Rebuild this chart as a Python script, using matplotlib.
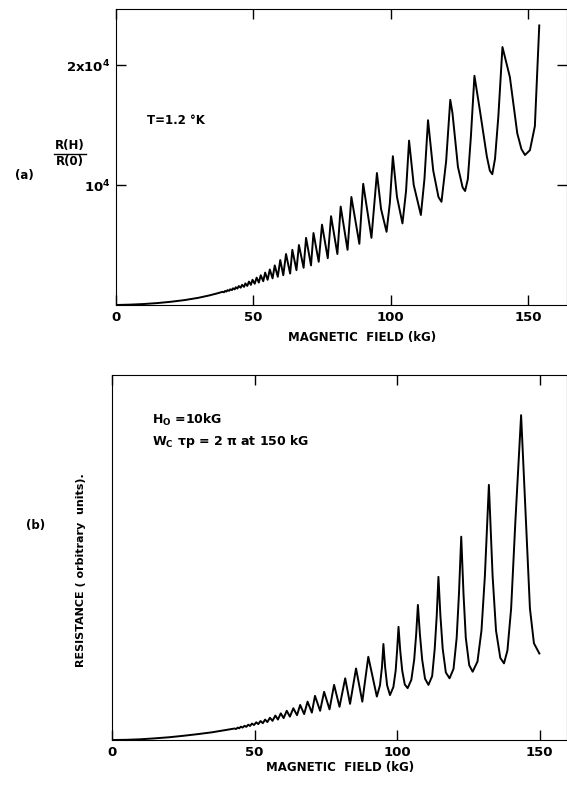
import matplotlib
matplotlib.use("Agg")
import matplotlib.pyplot as plt
from matplotlib.lines import Line2D

# ---- data ----
# (a) measured R(H)/R(0), field in kG, ratio in units of 10^4
field_a = [0.0, 5.0, 10.0, 15.0, 20.0, 25.0, 30.0, 34.0, 37.0,
           38.8, 39.3, 39.7, 40.2, 40.6, 41.2, 41.6, 42.2, 42.6, 43.2,
           43.6, 44.2, 44.7, 45.4, 45.9, 46.6, 47.1, 47.8, 48.4, 49.1,
           49.7, 50.5, 51.2, 52.0, 52.7, 53.6, 54.3, 55.2, 56.0, 57.0,
           57.8, 58.9, 59.8, 60.9, 61.9, 63.4, 64.2, 65.7, 66.6, 68.3,
           69.2, 71.0, 71.9, 73.8, 75.0, 77.1, 78.3, 80.6, 81.8, 84.3,
           85.7, 88.6, 90.0, 93.0, 95.0, 96.5, 98.5, 99.7, 100.8, 102.3,
           104.3, 105.6, 106.7, 108.4, 111.0, 112.3, 113.6, 115.5, 117.4, 118.5,
           120.2, 121.7, 122.5, 124.5, 126.2, 127.1, 128.1, 129.2, 130.5, 132.5,
           135.0, 136.1, 137.0, 138.0, 139.2, 140.7, 143.4, 146.1, 147.6, 148.9,
           150.7, 152.5, 154.1]
ratio_a = [0.000, 0.003, 0.008, 0.016, 0.027, 0.041, 0.060, 0.080, 0.098,
           0.110, 0.106, 0.117, 0.112, 0.124, 0.118, 0.131, 0.124, 0.139, 0.130,
           0.148, 0.137, 0.158, 0.144, 0.168, 0.151, 0.180, 0.159, 0.195, 0.168,
           0.210, 0.177, 0.228, 0.187, 0.248, 0.198, 0.270, 0.210, 0.296, 0.222,
           0.330, 0.235, 0.375, 0.248, 0.425, 0.262, 0.46, 0.29, 0.50, 0.31,
           0.56, 0.33, 0.60, 0.36, 0.67, 0.39, 0.74, 0.425, 0.82, 0.46,
           0.90, 0.51, 1.01, 0.56, 1.10, 0.80, 0.61, 0.85, 1.24, 0.90,
           0.68, 0.95, 1.37, 1.00, 0.75, 1.05, 1.54, 1.12, 0.90, 0.86,
           1.20, 1.71, 1.60, 1.15, 0.98, 0.95, 1.05, 1.40, 1.91, 1.62,
           1.24, 1.12, 1.09, 1.22, 1.57, 2.15, 1.90, 1.43, 1.30, 1.25,
           1.29, 1.49, 2.33]

# (b) calculated resistance, arbitrary units
field_b = [0.0, 5.0, 10.0, 15.0, 20.0, 25.0, 30.0, 35.0, 40.0,
           43.0, 43.5, 44.1, 44.6, 45.2, 45.8, 46.5, 47.1, 47.8, 48.4,
           49.1, 49.8, 50.6, 51.3, 52.1, 52.9, 53.7, 54.5, 55.4, 56.3,
           57.3, 58.2, 59.2, 60.2, 61.3, 62.4, 63.6, 64.9, 66.0, 67.4,
           68.6, 70.1, 71.2, 73.0, 74.4, 76.3, 77.9, 79.8, 81.8, 83.5,
           85.6, 87.8, 89.9, 92.9, 94.0, 94.7, 95.2, 95.8, 96.5, 97.5,
           98.7, 99.5, 100.0, 100.5, 101.1, 101.8, 102.7, 103.7,
           105.0, 106.0, 106.7, 107.3, 108.0, 108.8, 109.8, 111.0,
           112.3, 113.2, 113.9, 114.5, 115.2, 116.0, 117.1, 118.4,
           119.8, 120.9, 121.7, 122.5, 123.3, 124.1, 125.3, 126.5,
           128.2, 129.6, 130.8, 132.2, 133.5, 134.7, 136.2, 137.5,
           138.7, 140.0, 141.5, 143.5, 145.2, 146.6, 148.0, 149.9]
resist_b = [0.0, 0.05, 0.2, 0.45, 0.75, 1.15, 1.6, 2.1, 2.75,
            3.15, 3.0, 3.4, 3.2, 3.65, 3.4, 3.9, 3.6, 4.2, 3.85,
            4.5, 4.1, 4.85, 4.35, 5.2, 4.6, 5.6, 4.9, 6.1, 5.25,
            6.7, 5.6, 7.3, 6.0, 8.0, 6.4, 8.7, 6.8, 9.6, 7.1,
            10.5, 7.5, 12.1, 8.0, 13.2, 8.4, 15.1, 9.1, 16.9, 9.9,
            19.6, 10.5, 22.8, 11.9, 15.0, 20.0, 26.3, 20.0, 15.0, 12.3,
            14.5, 19.0, 24.5, 31.0, 24.5, 19.0, 15.2, 14.2,
            16.5, 22.0, 29.0, 37.0, 29.0, 22.0, 16.8, 15.1,
            17.5, 25.0, 34.0, 44.7, 34.0, 25.0, 18.5, 16.9,
            19.5, 28.0, 40.0, 55.7, 40.0, 28.0, 20.5, 18.7,
            21.5, 30.0, 45.0, 69.9, 45.0, 30.0, 22.5, 21.0,
            24.5, 36.0, 60.0, 89.0, 60.0, 36.0, 26.5, 23.7]

field_ticks = [0, 50, 100, 150]
field_labels = ["0", "50", "100", "150"]
ratio_ticks = [1, 2]
ratio_labels = ["10$^4$", "2x10$^4$"]

plt.rcParams["font.family"] = "DejaVu Sans"
plt.rcParams["font.weight"] = "bold"
plt.rcParams["mathtext.default"] = "regular"

W, H = 567, 788
fig = plt.figure(figsize=(W / 100, H / 100), dpi=100)


def box(left, top, right, bottom):
    # pixel box -> figure fraction rect
    return [left / W, 1 - bottom / H, (right - left) / W, (bottom - top) / H]


def fxy(x, y):
    return x / W, 1 - y / H


# panel (a)
ax1 = fig.add_axes(box(116, 9, 567, 305))
ax1.plot(field_a, ratio_a, color="black", lw=1.4)
ax1.set_xlim(0, 164.2)
ax1.set_ylim(0, 2.467)
ax1.set_xticks(field_ticks)
ax1.set_xticklabels(field_labels)
ax1.set_yticks(ratio_ticks)
ax1.set_yticklabels(ratio_labels)
ax1.tick_params(direction="in", length=7, width=1, top=True, right=True,
                labelsize=9.5, pad=4)

fig.text(*fxy(147, 120), "T=1.2 °K", fontsize=8.5, va="center", ha="left")
fig.text(*fxy(70, 145), "R(H)", fontsize=8.5, ha="center", va="center")
fig.text(*fxy(70, 162), "R(0)", fontsize=8.5, ha="center", va="center")
fig.add_artist(Line2D([54 / W, 86 / W], [1 - 153.5 / H, 1 - 153.5 / H],
                      color="black", lw=1))
fig.text(*fxy(24, 176), "(a)", fontsize=8.5, ha="center", va="center")
fig.text(*fxy(362, 337), "MAGNETIC  FIELD (kG)", fontsize=8.5,
         ha="center", va="center")

# panel (b)
ax2 = fig.add_axes(box(112, 375, 567, 740))
ax2.plot(field_b, resist_b, color="black", lw=1.4)
ax2.set_xlim(0, 159.6)
ax2.set_ylim(0, 100)
ax2.set_xticks(field_ticks)
ax2.set_xticklabels(field_labels)
ax2.set_yticks([])
ax2.tick_params(direction="in", length=7, width=1, top=True,
                labelsize=9.5, pad=4)

fig.text(*fxy(152, 420), "H$_O$ =10kG", fontsize=9, ha="left", va="center")
fig.text(*fxy(152, 441), "W$_C$ τp = 2 π at 150 kG", fontsize=9,
         ha="left", va="center")
fig.text(*fxy(36, 525), "(b)", fontsize=8.5, ha="center", va="center")
fig.text(*fxy(81, 570), "RESISTANCE ( orbitrary  units).", fontsize=8,
         rotation=90, ha="center", va="center")
fig.text(*fxy(340, 768), "MAGNETIC  FIELD (kG)", fontsize=8.5,
         ha="center", va="center")

fig.savefig("out.png", dpi=100)
